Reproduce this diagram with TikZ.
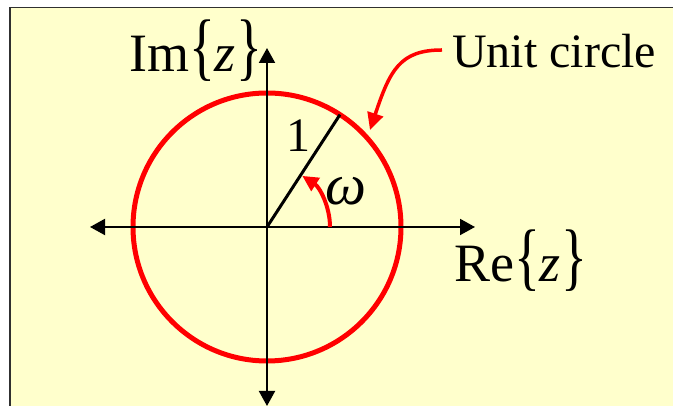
\documentclass[tikz,border=0pt]{standalone}
\usepackage{fontspec}
\setmainfont{Liberation Serif}
\usetikzlibrary{arrows.meta,calc}
\definecolor{bgyellow}{HTML}{FFFFCC}
\definecolor{framegray}{HTML}{303030}
\newcommand\mybl{\scalebox{1}[1.38]{\{}}
\newcommand\mybr{\scalebox{1}[1.38]{\}}}
\begin{document}
\begin{tikzpicture}[x=1pt,y=1pt,
  axisline/.style={line width=2pt, {Triangle[width=16pt,length=15pt]}-{Triangle[width=16pt,length=15pt]}},
  biglbl/.style={inner sep=0pt, font=\fontsize{54}{60}\selectfont},
  midlbl/.style={inner sep=0pt, font=\fontsize{48}{54}\selectfont}]
\useasboundingbox (0,0) rectangle (673,406);
\fill[white] (0,0) rectangle (673,406);
\fill[bgyellow] (10,0) rectangle (673,398.5);
\draw[framegray, line width=1.8pt] (10,0) -- (10,398.5) -- (673,398.5);
% coordinates
\coordinate (O) at (267,179);
\coordinate (xl) at (90,179);
\coordinate (xr) at (475,179);
\coordinate (yt) at (267,358);
\coordinate (yb) at (267,0);
\coordinate (R) at ($(O)+(57:134)$);
% circle
\draw[red, line width=5pt] (O) circle[radius=134];
% axes
\draw[axisline] (xl) -- (xr);
\draw[axisline] (yb) -- (yt);
% radius
\draw[line width=3pt] (O) -- (R);
% omega arc
\draw[red, line width=4pt, -{Triangle[width=15pt,length=16pt]}] ($(O)+(0:63)$) arc[start angle=0, end angle=57, radius=61];
% labels
\node[biglbl, anchor=base west] (im) at (129,334) {Im\mybl\kern-1pt\textit{z}\kern1pt\mybr};
\node[biglbl, anchor=base west] (re) at (454,124) {Re\mybl\kern-1pt\textit{z}\kern1pt\mybr};
\node[midlbl, anchor=base] (one) at (298,254) {1};
\node[inner sep=0pt, font=\fontsize{58}{62}\selectfont, anchor=base west] (om) at (325,201) {\textit{ω}};
\node[midlbl, anchor=base west] (uc) at (452,338) {Unit circle};
% unit circle pointer
\coordinate (ucstart) at (442,356);
\coordinate (tip) at (370,276);
\draw[red, line width=3.5pt, -{Triangle[width=16pt,length=17pt]}] (ucstart) .. controls (400,356) and (390,336) .. (tip);
\end{tikzpicture}
\end{document}
